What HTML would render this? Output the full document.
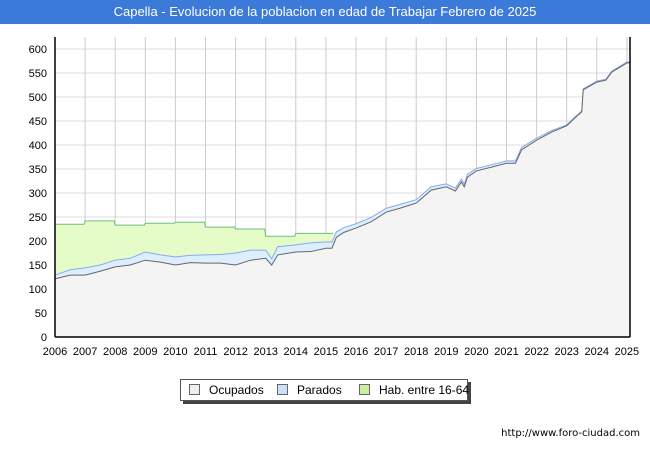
<!DOCTYPE html>
<html><head><meta charset="utf-8"><style>
body{margin:0;width:650px;height:450px;background:#fff;font-family:"Liberation Sans","DejaVu Sans",sans-serif;overflow:hidden;position:relative}
#title{position:absolute;left:0;top:0;width:650px;height:24px;background:#3b7ad9;color:#fff;font-size:13px;line-height:24px;text-align:center;z-index:2}
#legend{position:absolute;left:180px;top:379px;width:286px;height:20px;border:1px solid #555;background:#fff;box-shadow:3px 3px 0 #444;font-size:12px;line-height:20px;white-space:nowrap;z-index:2}
.li{position:absolute;top:0;white-space:nowrap}
.sw{display:inline-block;width:9px;height:9px;border:1px solid #666;margin-right:9px;vertical-align:-1px}
#url{position:absolute;right:10px;top:428px;font-size:10px;font-family:"DejaVu Sans",sans-serif;z-index:2}
</style></head><body>
<div id="title">Capella - Evolucion de la poblacion en edad de Trabajar Febrero de 2025</div>
<svg id="chart" width="650" height="450" style="position:absolute;left:0;top:0"></svg>
<div id="legend">
<span class="li" style="left:8px"><span class="sw" style="background:#eee"></span>Ocupados</span>
<span class="li" style="left:96px"><span class="sw" style="background:#cce0f8"></span>Parados</span>
<span class="li" style="left:178px"><span class="sw" style="background:#c8f0a0"></span>Hab. entre 16-64</span>
</div>
<div id="url">http://www.foro-ciudad.com</div>
<script>
const times=[2006,2006.5,2007,2007.5,2008,2008.5,2009,2009.5,2010,2010.5,2011,2011.5,2012,2012.5,2013,2013.2,2013.4,2014,2014.5,2015,2015.2,2015.35,2015.6,2016,2016.5,2017,2017.5,2018,2018.5,2019,2019.3,2019.5,2019.6,2019.7,2020,2020.5,2021,2021.3,2021.5,2022,2022.5,2023,2023.3,2023.5,2023.55,2024,2024.3,2024.5,2025,2025.12];
const ocupados=[121,129,129,137,146,150,160,156,150,155,154,154,150,160,164,150,171,177,178,185,185,208,218,227,240,260,269,279,306,313,304,323,313,333,346,354,362,362,390,410,427,440,458,469,515,531,535,552,571,571];
const parados=[8,11,15,13,14,14,17,15,17,15,17,18,25,21,17,13,17,15,18,13,13,11,10,9,9,8,8,7,7,6,6,6,6,6,5,5,5,5,5,4,3,2,2,2,2,2,2,2,2,2];
const habYears=[2006,2007,2008,2009,2010,2011,2012,2013,2014];
const habValues=[235,242,233,237,239,229,225,210,216];
const habEnd=2015.28;
const yTicks=[0,50,100,150,200,250,300,350,400,450,500,550,600];
const xTicks=[2006,2007,2008,2009,2010,2011,2012,2013,2014,2015,2016,2017,2018,2019,2020,2021,2022,2023,2024,2025];
const L=55,R=630,T=49,B=337;
const X=t=>L+(t-2006)*30.1;
const Y=v=>B-(v/600)*(B-T);
const svg=document.getElementById('chart');const NS='http://www.w3.org/2000/svg';
function mk(tag,a,name){const e=document.createElementNS(NS,tag);for(const k in a)e.setAttribute(k,a[k]);


svg.appendChild(e);return e;}
mk('rect',{x:L,y:T-12,width:R-L,height:B-T+12,fill:'#fff'},'plot-background');
yTicks.forEach(v=>{mk('line',{x1:L,x2:R,y1:Y(v),y2:Y(v),stroke:'#ddd','stroke-width':1},'y-gridline');
const t=mk('text',{x:L-8,y:Y(v)+4,'text-anchor':'end','font-size':11,fill:'#000'},'y-tick-label');t.textContent=v;});
xTicks.forEach(v=>{if(v>2006)mk('line',{x1:X(v),x2:X(v),y1:T-12,y2:B,stroke:'#ccc','stroke-width':1},'x-gridline');
const t=mk('text',{x:X(v),y:B+18,'text-anchor':'middle','font-size':11,fill:'#000'},'x-tick-label');t.textContent=v;});
let hp=[];habYears.forEach((y,i)=>{const x1=X(y),x2=X(i<habYears.length-1?habYears[i+1]:habEnd);hp.push([x1,Y(habValues[i])],[x2-1,Y(habValues[i])]);});
const actIdx=times.map((t,i)=>i).filter(i=>times[i]<=habEnd);
let d='M'+hp.map(p=>p.join(',')).join('L');
actIdx.slice().reverse().forEach(i=>{d+='L'+X(times[i])+','+Y(ocupados[i]+parados[i]);});
mk('path',{d:d+'Z',fill:'#e6fcc8',stroke:'none'},'hab-area');
mk('path',{d:'M'+hp.map(p=>p.join(',')).join('L'),fill:'none',stroke:'#6abf80','stroke-width':1},'hab-line');
const topPts=times.map((t,i)=>X(t)+','+Y(ocupados[i]+parados[i]));
const botPts=times.map((t,i)=>X(t)+','+Y(ocupados[i])).reverse();
mk('path',{d:'M'+topPts.join('L')+'L'+botPts.join('L')+'Z',fill:'#ddeeff',stroke:'none'},'parados-area');
mk('path',{d:'M'+topPts.join('L'),fill:'none',stroke:'#88aaee','stroke-width':1},'parados-line');
const ocPts=times.map((t,i)=>X(t)+','+Y(ocupados[i]));
mk('path',{d:'M'+X(times[0])+','+B+'L'+ocPts.join('L')+'L'+X(times[times.length-1])+','+B+'Z',fill:'#f4f4f4',stroke:'none'},'ocupados-area');
mk('path',{d:'M'+ocPts.join('L'),fill:'none',stroke:'#666','stroke-width':1},'ocupados-line');
mk('line',{x1:L,x2:L,y1:T-12,y2:B,stroke:'#000','stroke-width':1.5},'y-axis');
mk('line',{x1:L,x2:R,y1:B,y2:B,stroke:'#000','stroke-width':1.5},'x-axis');
mk('line',{x1:R,x2:R,y1:T-12,y2:B,stroke:'#000','stroke-width':1.5},'right-border');
</script>
</body></html>
